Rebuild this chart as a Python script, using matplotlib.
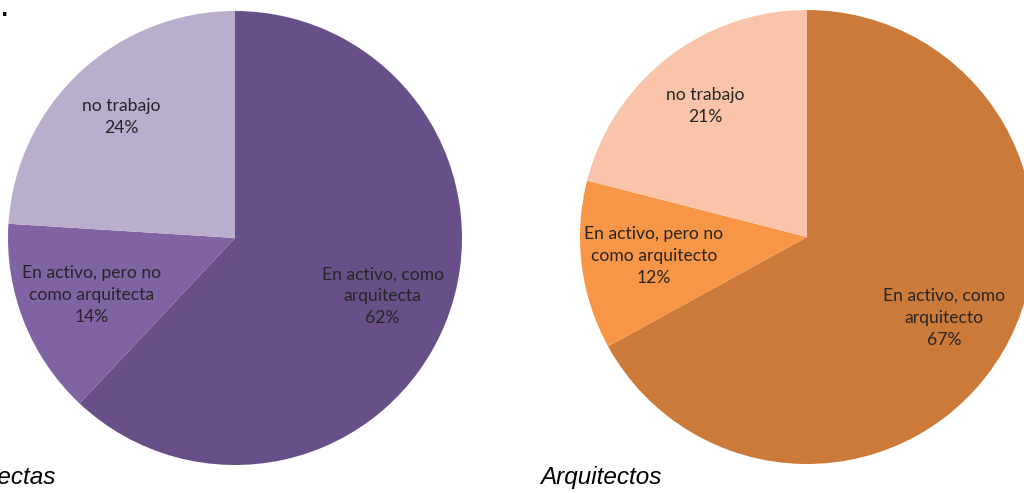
import numpy as np
import matplotlib
matplotlib.use("Agg")
import matplotlib.pyplot as plt

# datos
categorias_a = ["En activo, como\narquitecta", "En activo, pero no\ncomo arquitecta", "no trabajo"]
valores_a = [62, 14, 24]
categorias_o = ["En activo, como\narquitecto", "En activo, pero no\ncomo arquitecto", "no trabajo"]
valores_o = [67, 12, 21]
titulos = ["Arquitectas", "Arquitectos"]

colores_a = ["#684f87", "#7f63a3", "#b9aecb"]
colores_o = ["#cc7a3a", "#f79646", "#f9c4a9"]
dist_etiquetas = [0.70, 0.68, 0.73]

W, H = 1024, 493
fig = plt.figure(figsize=(W / 100, H / 100), dpi=100)

R = 227


def dibujar_pie(cx, cy, valores, categorias, colores):
    # cx, cy en pixeles desde arriba a la izquierda
    ax = fig.add_axes([(cx - R) / W, (H - cy - R) / H, 2 * R / W, 2 * R / H])
    wedges, _ = ax.pie(valores, colors=colores, startangle=90, counterclock=False,
                       radius=1, wedgeprops=dict(linewidth=0))
    for w, cat, val, d in zip(wedges, categorias, valores, dist_etiquetas):
        ang = np.deg2rad((w.theta1 + w.theta2) / 2)
        ax.text(d * np.cos(ang), d * np.sin(ang), f"{cat}\n{val}%",
                ha="center", va="center", fontsize=12.6, family="Lato",
                color="#262626", linespacing=1.45)
    ax.set_xlim(-1, 1)
    ax.set_ylim(-1, 1)
    ax.set_aspect("equal")
    ax.axis("off")
    return ax


dibujar_pie(235, 238, valores_a, categorias_a, colores_a)
dibujar_pie(807, 237, valores_o, categorias_o, colores_o)

fig.text(56 / W, 9 / H, titulos[0], ha="right", va="baseline", fontsize=17.5,
         style="italic", family="Liberation Sans", color="black")
fig.text(540 / W, 9 / H, titulos[1], ha="left", va="baseline", fontsize=17.5,
         style="italic", family="Liberation Sans", color="black")
fig.text(1 / W, (H - 10) / H, ".", ha="left", va="center", fontsize=14,
         fontweight="bold", color="black")

fig.savefig("out.png", dpi=100)
